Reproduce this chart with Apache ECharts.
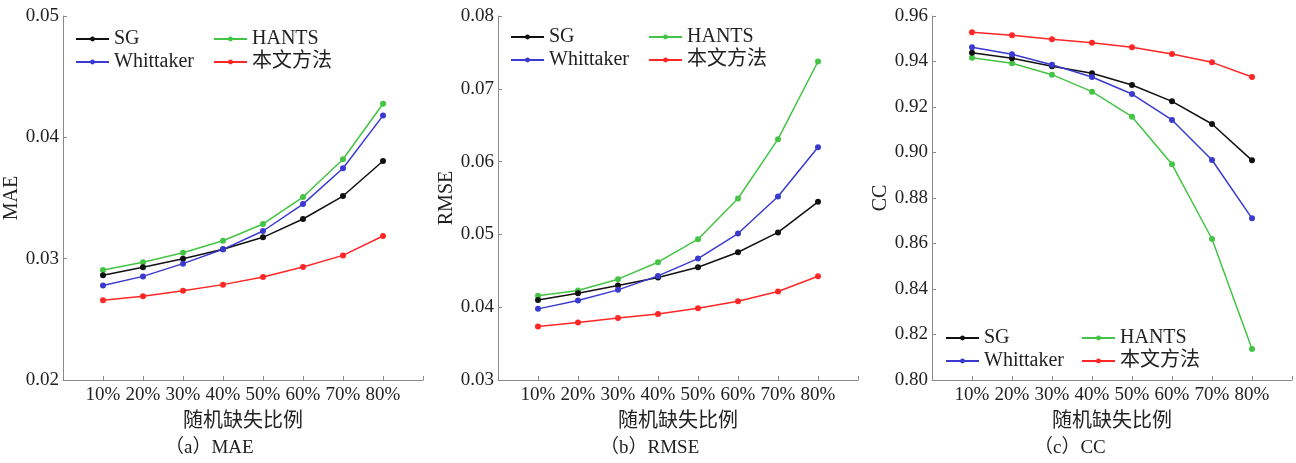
<!DOCTYPE html>
<html><head><meta charset="utf-8">
<script src="https://cdn.jsdelivr.net/npm/echarts@6/dist/echarts.min.js"></script>
<style>html,body{margin:0;padding:0;background:#fff}#c{width:1296px;height:463px}</style>
</head><body><div id="c"></div>
<script>
const categories = ['10%','20%','30%','40%','50%','60%','70%','80%'];
const seriesNames = ['SG','Whittaker','HANTS','本文方法'];
const colors = ['#111111','#3a3ad0','#44c444','#ff2626'];

const maeSG = [0.02863,0.02929,0.03000,0.03077,0.03176,0.03327,0.03516,0.03805];
const maeWhittaker = [0.02778,0.02854,0.02959,0.03077,0.03228,0.03450,0.03745,0.04179];
const maeHANTS = [0.02907,0.02970,0.03049,0.03148,0.03286,0.03508,0.03819,0.04277];
const maeOurs = [0.02657,0.02690,0.02736,0.02786,0.02849,0.02931,0.03027,0.03187];

const rmseSG = [0.04100,0.04192,0.04298,0.04408,0.04549,0.04755,0.05027,0.05447];
const rmseWhittaker = [0.03977,0.04092,0.04238,0.04430,0.04668,0.05012,0.05520,0.06198];
const rmseHANTS = [0.04156,0.04229,0.04385,0.04618,0.04934,0.05493,0.06308,0.07375];
const rmseOurs = [0.03734,0.03789,0.03853,0.03908,0.03986,0.04082,0.04215,0.04426];

const ccSG = [0.94388,0.94139,0.93788,0.93480,0.92967,0.92249,0.91253,0.89656];
const ccWhittaker = [0.94623,0.94315,0.93861,0.93319,0.92571,0.91429,0.89670,0.87106];
const ccHANTS = [0.94168,0.93920,0.93421,0.92674,0.91575,0.89480,0.86198,0.81363];
const ccOurs = [0.95282,0.95150,0.94974,0.94828,0.94623,0.94330,0.93963,0.93319];

const yTicksA = {min:0.02, max:0.05, interval:0.01};
const yTicksB = {min:0.03, max:0.08, interval:0.01};
const yTicksC = {min:0.80, max:0.96, interval:0.02};

const panels = [
  {name:'MAE', caption:'（a）MAE', left:63, data:[maeSG,maeWhittaker,maeHANTS,maeOurs], y:yTicksA, nameGap:35, legTop:29, legL1:75, legL2:213},
  {name:'RMSE', caption:'（b）RMSE', left:498, data:[rmseSG,rmseWhittaker,rmseHANTS,rmseOurs], y:yTicksB, nameGap:40, legTop:27, legL1:510, legL2:648},
  {name:'CC', caption:'（c）CC', left:932, data:[ccSG,ccWhittaker,ccHANTS,ccOurs], y:yTicksC, nameGap:40, legTop:328, legL1:945, legL2:1081}
];

const serif = '"Liberation Serif","Noto Sans CJK SC",serif';
const axisColor = '#8a8a8a';
const textColor = '#222';

const grid=[], xAxis=[], yAxis=[], series=[], legend=[], graphic=[];
panels.forEach((p,pi)=>{
  grid.push({left:p.left, top:16, width:360, height:364, containLabel:false});
  xAxis.push({
    type:'value', gridIndex:pi, min:0, max:9, interval:1,
    name:'随机缺失比例', nameLocation:'middle', nameGap:22,
    nameTextStyle:{fontSize:20, color:textColor, fontFamily:'"Noto Sans CJK SC",serif'},
    axisLine:{lineStyle:{color:axisColor, width:1}},
    axisTick:{inside:true, length:4, lineStyle:{color:axisColor}},
    splitLine:{show:false},
    axisLabel:{fontSize:19, color:textColor, fontFamily:serif, margin:6,
      formatter:(v)=> (v>=1 && v<=categories.length) ? categories[v-1] : ''}
  });
  yAxis.push({
    type:'value', gridIndex:pi, min:p.y.min, max:p.y.max, interval:p.y.interval,
    name:p.name, nameLocation:'middle', nameGap:p.nameGap,
    nameTextStyle:{fontSize:20, color:textColor, fontFamily:serif},
    axisLine:{show:true, lineStyle:{color:axisColor, width:1}},
    axisTick:{show:true, inside:true, length:4, lineStyle:{color:axisColor}},
    splitLine:{show:false},
    axisLabel:{fontSize:19, color:textColor, fontFamily:serif, margin:4,
      formatter:(v)=>v.toFixed(2)}
  });
  seriesNames.forEach((n,si)=>{
    series.push({
      name:n, type:'line', xAxisIndex:pi, yAxisIndex:pi,
      data:p.data[si].map((v,i)=>[i+1,v]),
      symbol:'circle', symbolSize:6,
      lineStyle:{width:1.5, color:colors[si]},
      itemStyle:{color:colors[si]},
      z: si===2 ? 2 : 3
    });
  });
  const legCommon = {orient:'vertical', top:p.legTop, itemWidth:33, itemHeight:6, itemGap:3, padding:0,
    textStyle:{fontSize:20, color:textColor, fontFamily:serif, lineHeight:20}, selectedMode:false};
  legend.push(Object.assign({}, legCommon, {left:p.legL1, data:['SG','Whittaker']}));
  legend.push(Object.assign({}, legCommon, {left:p.legL2, data:['HANTS','本文方法']}));
  graphic.push({type:'text', left:p.left - 30 + 180 - 48, top:439,
    style:{text:p.caption, font:'19px '+serif, fill:textColor}});
});

const chart = echarts.init(document.getElementById('c'), null, {renderer:'canvas'});
chart.setOption({animation:false, color:colors, grid, xAxis, yAxis, series, legend, graphic});
</script></body></html>
